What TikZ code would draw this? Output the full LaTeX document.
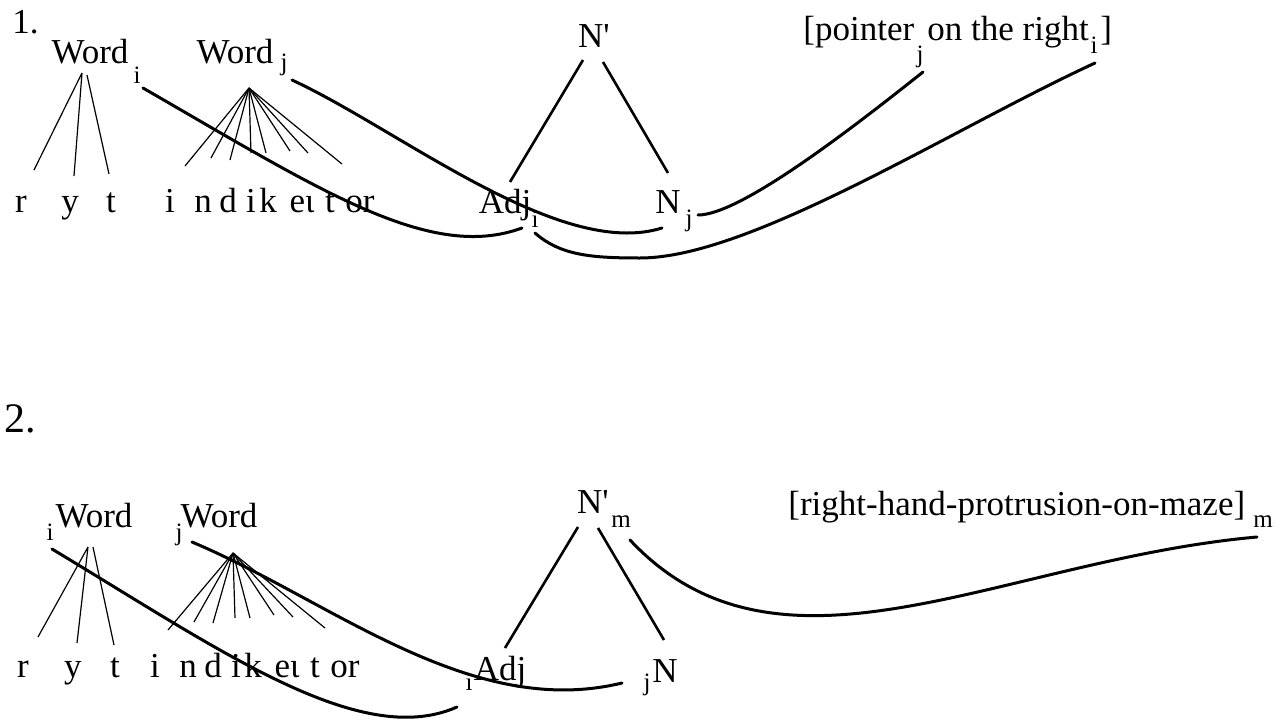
\documentclass[tikz,border=0pt]{standalone}
\usepackage{fontspec}
\setmainfont{Liberation Serif}
\usetikzlibrary{positioning}
\tikzset{
  lab/.style={inner sep=0pt, anchor=base, font=\fontsize{17.5}{20}\selectfont},
  txt/.style={inner sep=0pt, anchor=base west, font=\fontsize{17.5}{20}\selectfont},
  idx/.style={inner sep=0pt, anchor=base, font=\fontsize{12.5}{14}\selectfont},
  stem/.style={line width=0.6pt},
  branch/.style={line width=1.3pt},
  link/.style={line width=1.5pt, line cap=round}
}

\begin{document}
\begin{tikzpicture}[x=0.5pt,y=-0.5pt]
  \useasboundingbox (0,0) rectangle (1276,723);

  % --- 1. ---
  \node[txt] (one) at (12,33) {1.};
  \node[lab] (word1i) at (90,63) {Word};
  \node[idx] (sub1i) at (137,83) {i};
  \node[lab] (word1j) at (235,63) {Word};
  \node[idx] (sub1j) at (284,70) {j};
  \foreach \x/\lab [count=\k] in {21/r,70/y,111/t}
    \node[lab] (seg1a\k) at (\x,212) {\lab};
  \foreach \x/\lab [count=\k] in {170/i,203/n,228/d,251/i,268/k,302/eɩ,330/t,360/or}
    \node[lab] (seg1b\k) at (\x,212) {\lab};
  \coordinate (top1j) at (249,88);
  \draw[stem] (82,73) -- (34,170) (82,73) -- (74,176) (87,75) -- (109,174);
  \foreach \x/\y in {185/166,211/158,230/160,251/153,266/153,290/151,308/153,342/164}
    \draw[stem] (top1j) -- (\x,\y);

  \node[lab] (nbar1) at (594,47) {N\textquotesingle};
  \node[lab] (adj1) at (505,213) {Adj};
  \node[idx] (subadj1) at (535,227) {i};
  \node[lab] (n1) at (668,213) {N};
  \node[idx] (subn1) at (689,226) {j};
  \draw[branch] ([shift={(-11,13)}]nbar1.base) -- ([shift={(5,-31)}]adj1.base);
  \draw[branch] ([shift={(9,15)}]nbar1.base) -- ([shift={(0,-40)}]n1.base);

  \node[txt] (ptr1) at (803,40) {[pointer};
  \node[idx] (ptrj) at (920,62) {j};
  \node[txt] (ptr2) at (927,40) {on the right};
  \node[idx] (ptri) at (1094,53) {i};
  \node[txt] (ptr3) at (1100,40) {]};

  \draw[link] ([shift={(6,5)}]sub1i.base) .. controls (320,190) and (430,262) .. ([shift={(17,15)}]adj1.base);
  \draw[link] ([shift={(8,10)}]sub1j.base) .. controls (400,130) and (560,260) .. ([shift={(-6,15)}]n1.base);
  \draw[link] ([shift={(9,-11)}]subn1.base) .. controls (740,215) and (850,130) .. ([shift={(3,10)}]ptrj.base);
  \draw[link] ([shift={(0,6)}]subadj1.base) .. controls (560,255) and (590,258) .. (640,258)
    .. controls (750,258) and (950,130) .. ([shift={(1,10)}]ptri.base);

  % --- 2. ---
  \node[txt, font=\fontsize{21}{24}\selectfont] (two) at (4,432) {2.};
  \node[idx] (sub2i) at (50,540) {i};
  \node[lab] (word2i) at (94,527) {Word};
  \node[idx] (sub2j) at (179,540) {j};
  \node[lab] (word2j) at (219,527) {Word};
  \foreach \x/\lab [count=\k] in {23/r,73/y,115/t}
    \node[lab] (seg2a\k) at (\x,677) {\lab};
  \foreach \x/\lab [count=\k] in {155/i,188/n,213/d,236/i,253/k,287/eɩ,315/t,345/or}
    \node[lab] (seg2b\k) at (\x,677) {\lab};
  \coordinate (top2j) at (233,553);
  \draw[stem] (88,547) -- (38,637) (88,547) -- (77,643) (93,547) -- (114,645);
  \foreach \x/\y in {168/630,194/622,213/623,235/618,250/618,274/615,293/617,325/628}
    \draw[stem] (top2j) -- (\x,\y);

  \node[lab] (nbar2) at (593,513) {N\textquotesingle};
  \node[idx] (subm2) at (621,527) {m};
  \node[idx] (subadj2) at (469,690) {i};
  \node[lab] (adj2) at (500,680) {Adj};
  \node[idx] (subn2) at (647,690) {j};
  \node[lab] (n2) at (665,682) {N};
  \draw[branch] ([shift={(-15,14)}]nbar2.base) -- ([shift={(5,-32)}]adj2.base);
  \draw[branch] ([shift={(5,15)}]nbar2.base) -- ([shift={(-1,-42)}]n2.base);

  \node[txt] (maze) at (788,515) {[right-hand-protrusion-on-maze]};
  \node[idx] (mazem) at (1263,527) {m};

  \draw[link] ([shift={(2,9)}]sub2i.base) .. controls (220,650) and (360,750) .. ([shift={(-12,17)}]subadj2.base);
  \draw[link] ([shift={(13,2)}]sub2j.base) .. controls (330,600) and (470,720) .. ([shift={(-25,-7)}]subn2.base);
  \draw[link] ([shift={(9,13)}]subm2.base) .. controls (780,700) and (1000,560) .. ([shift={(-6,10)}]mazem.base);
\end{tikzpicture}
\end{document}
